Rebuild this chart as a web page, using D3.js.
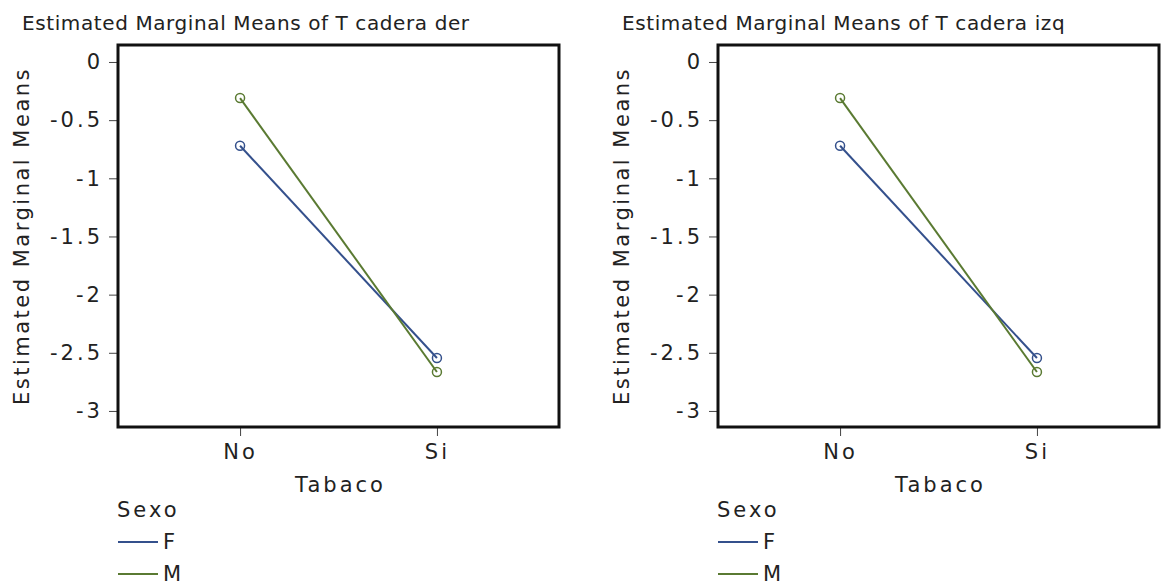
<!DOCTYPE html>
<html>
<head>
<meta charset="utf-8">
<script src="https://cdn.jsdelivr.net/npm/d3@7"></script>
<style>
  html, body { margin: 0; padding: 0; background: #fff; }
  svg { display: block; }
  text { font-family: "DejaVu Sans", Verdana, sans-serif; fill: #222; }
</style>
</head>
<body>
<svg id="chart" width="1172" height="587"></svg>
<script>
// ---- data ----
const tabaco = ["No", "Si"];
const sexo = ["F", "M"];
const titles = ["Estimated Marginal Means of T cadera der", "Estimated Marginal Means of T cadera izq"];
const derF = [-0.72, -2.545];
const derM = [-0.31, -2.665];
const izqF = [-0.72, -2.545];
const izqM = [-0.31, -2.665];
const yTicks = [0, -0.5, -1, -1.5, -2, -2.5, -3];
const yTickLabels = ["0", "-0.5", "-1", "-1.5", "-2", "-2.5", "-3"];
const seriesColors = ["#34508c", "#5a7a32"];

const panels = [
  { title: titles[0], series: [derF, derM], offsetX: 0 },
  { title: titles[1], series: [izqF, izqM], offsetX: 600 }
];

const svg = d3.select("#chart");
const boxLeft = 118, boxRight = 559, boxTop = 45, boxBottom = 427;
const FS = "21px", LS = "3px";

panels.forEach(p => {
  const g = svg.append("g").attr("transform", `translate(${p.offsetX},0)`);

  const x = d3.scalePoint().domain(tabaco).range([boxLeft, boxRight]).padding(0.62);
  const y = d3.scaleLinear().domain([-3.138, 0.146]).range([boxBottom, boxTop]);

  // title
  g.append("text")
    .attr("x", 22).attr("y", 30)
    .style("font-size", "20px")
    .style("letter-spacing", "0.6px")
    .text(p.title);

  // y axis
  const yAxis = g.append("g")
    .attr("transform", `translate(${boxLeft},0)`)
    .call(d3.axisLeft(y).tickValues(yTicks).tickSize(9).tickPadding(6)
      .tickFormat((d, i) => yTickLabels[i]));
  yAxis.select(".domain").remove();
  yAxis.selectAll(".tick line").attr("stroke", "#444");
  yAxis.selectAll(".tick text")
    .style("font-size", FS).style("letter-spacing", LS).attr("fill", "#222");

  // x axis
  const xAxis = g.append("g")
    .attr("transform", `translate(0,${boxBottom})`)
    .call(d3.axisBottom(x).tickSize(9).tickPadding(8));
  xAxis.select(".domain").remove();
  xAxis.selectAll(".tick line").attr("stroke", "#444");
  xAxis.selectAll(".tick text")
    .style("font-size", FS).style("letter-spacing", LS).attr("fill", "#222");

  // box
  g.append("rect")
    .attr("x", boxLeft).attr("y", boxTop)
    .attr("width", boxRight - boxLeft).attr("height", boxBottom - boxTop)
    .attr("fill", "none").attr("stroke", "#111").attr("stroke-width", 3);

  // axis titles
  g.append("text")
    .attr("text-anchor", "middle")
    .attr("x", (boxLeft + boxRight) / 2 + 2).attr("y", 492)
    .style("font-size", FS).style("letter-spacing", LS)
    .text("Tabaco");
  g.append("text")
    .attr("text-anchor", "middle")
    .attr("transform", `translate(29,${(boxTop + boxBottom) / 2}) rotate(-90)`)
    .style("font-size", FS).style("letter-spacing", "2.5px")
    .text("Estimated Marginal Means");

  // lines and markers
  const line = d3.line().x((d, i) => x(tabaco[i])).y(d => y(d));
  p.series.forEach((vals, si) => {
    g.append("path").datum(vals)
      .attr("d", line)
      .attr("fill", "none")
      .attr("stroke", seriesColors[si])
      .attr("stroke-width", 2);
    g.selectAll(null).data(vals).enter().append("circle")
      .attr("cx", (d, i) => x(tabaco[i]))
      .attr("cy", d => y(d))
      .attr("r", 4.5)
      .attr("fill", "none")
      .attr("stroke", seriesColors[si])
      .attr("stroke-width", 1.5);
  });

  // legend
  g.append("text").attr("x", 117).attr("y", 517)
    .style("font-size", FS).style("letter-spacing", LS).text("Sexo");
  sexo.forEach((s, i) => {
    const ly = 542 + i * 32;
    g.append("line")
      .attr("x1", 118).attr("x2", 158).attr("y1", ly).attr("y2", ly)
      .attr("stroke", seriesColors[i]).attr("stroke-width", 2);
    g.append("text").attr("x", 163).attr("y", ly + 7)
      .style("font-size", FS).style("letter-spacing", LS).text(s);
  });
});
</script>
</body>
</html>
